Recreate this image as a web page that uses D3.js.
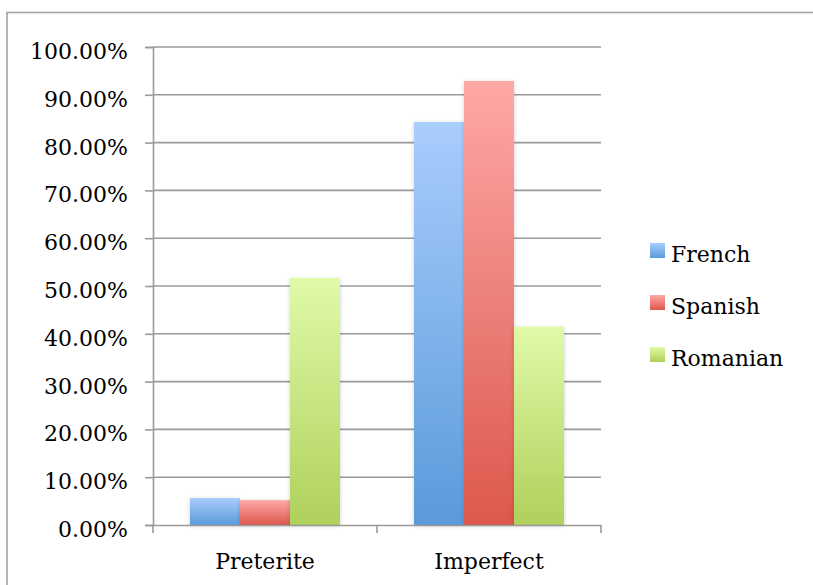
<!DOCTYPE html>
<html><head><meta charset="utf-8">
<script src="https://cdn.jsdelivr.net/npm/d3@7/dist/d3.min.js"></script>
<style>body{margin:0;background:#fff}svg{display:block}</style>
</head><body>
<svg id="chart" width="813" height="585"></svg>
<script>
const categories = ["Preterite", "Imperfect"];
const seriesNames = ["French", "Spanish", "Romanian"];
const french = [0.0565, 0.843];
const spanish = [0.052, 0.929];
const romanian = [0.517, 0.415];
const yTicks = [0, 0.1, 0.2, 0.3, 0.4, 0.5, 0.6, 0.7, 0.8, 0.9, 1.0];
const topColors = ["#a9cdfd", "#fea8a6", "#e0faa8"];
const bottomColors = ["#5a9adb", "#dc584d", "#afd05c"];

const values = [french, spanish, romanian];
const svg = d3.select("#chart");
const font = "'DejaVu Serif', serif";
const fs = 22;

// frame
svg.append("rect").attr("x", 7).attr("y", 12.5).attr("width", 820).attr("height", 600)
  .attr("fill", "none").attr("stroke", "#a3a3a3").attr("stroke-width", 1.6);

const x0 = d3.scaleBand().domain(categories).range([153, 601]).paddingInner(0).paddingOuter(0);
const bandPad = 37;
const x1 = d3.scaleBand().domain(seriesNames).range([0, x0.bandwidth() - 2 * bandPad]);
const y = d3.scaleLinear().domain([0, 1]).range([525, 47]);

const defs = svg.append("defs");
seriesNames.forEach((s, i) => {
  const g = defs.append("linearGradient").attr("id", "g" + i).attr("x1", 0).attr("y1", 0).attr("x2", 0).attr("y2", 1);
  g.append("stop").attr("offset", 0).attr("stop-color", topColors[i]);
  g.append("stop").attr("offset", 1).attr("stop-color", bottomColors[i]);
});
const f = defs.append("filter").attr("id", "sh").attr("x", -0.2).attr("y", -0.2).attr("width", 1.4).attr("height", 1.4);
f.append("feDropShadow").attr("dx", 0).attr("dy", 1).attr("stdDeviation", 2).attr("flood-color", "#000").attr("flood-opacity", 0.18);

// gridlines
svg.append("g").selectAll("line").data(yTicks.slice(1)).join("line")
  .attr("x1", 153).attr("x2", 601).attr("y1", d => y(d)).attr("y2", d => y(d))
  .attr("stroke", "#9a9a9a").attr("stroke-width", 1.6);

// y axis
const yAxis = svg.append("g").attr("transform", "translate(153,0)")
  .call(d3.axisLeft(y).tickValues(yTicks).tickSize(8).tickPadding(17).tickFormat(d => (d * 100).toFixed(2) + "%"));
yAxis.select(".domain").attr("stroke", "#9a9a9a").attr("stroke-width", 1.6);
yAxis.selectAll(".tick line").attr("stroke", "#9a9a9a").attr("stroke-width", 1.6);
yAxis.selectAll("text").attr("font-family", font).attr("font-size", fs).attr("fill", "#000").attr("dy", "0.52em");

// bars
const groups = svg.append("g").selectAll("g").data(categories).join("g")
  .attr("transform", d => `translate(${x0(d) + bandPad},0)`);
groups.selectAll("rect").data((c, ci) => seriesNames.map((s, si) => ({ s, si, v: values[si][ci] }))).join("rect")
  .attr("x", d => x1(d.s)).attr("width", x1.bandwidth())
  .attr("y", d => y(d.v)).attr("height", d => y(0) - y(d.v))
  .attr("fill", d => `url(#g${d.si})`).attr("filter", "url(#sh)");

// x axis
const xAxis = svg.append("g").attr("transform", "translate(0,525)")
  .call(d3.axisBottom(x0).tickSize(0).tickPadding(27).tickSizeOuter(0));
xAxis.select(".domain").attr("stroke", "#9a9a9a").attr("stroke-width", 1.6);
xAxis.selectAll("text").attr("font-family", font).attr("font-size", fs).attr("fill", "#000").attr("dy", "0.75em");
// category boundary ticks
svg.append("g").selectAll("line").data([...categories.map(c => x0(c)), 601]).join("line")
  .attr("x1", d => d).attr("x2", d => d).attr("y1", 525).attr("y2", 533)
  .attr("stroke", "#9a9a9a").attr("stroke-width", 1.6);

// legend
const leg = svg.append("g").selectAll("g").data(seriesNames).join("g")
  .attr("transform", (d, i) => `translate(650,${243 + i * 52})`);
leg.append("rect").attr("width", 15).attr("height", 15).attr("fill", (d, i) => `url(#g${i})`);
leg.append("text").attr("x", 21).attr("y", 18.5).text(d => d)
  .attr("font-family", font).attr("font-size", fs).attr("fill", "#000");
</script>
</body></html>
